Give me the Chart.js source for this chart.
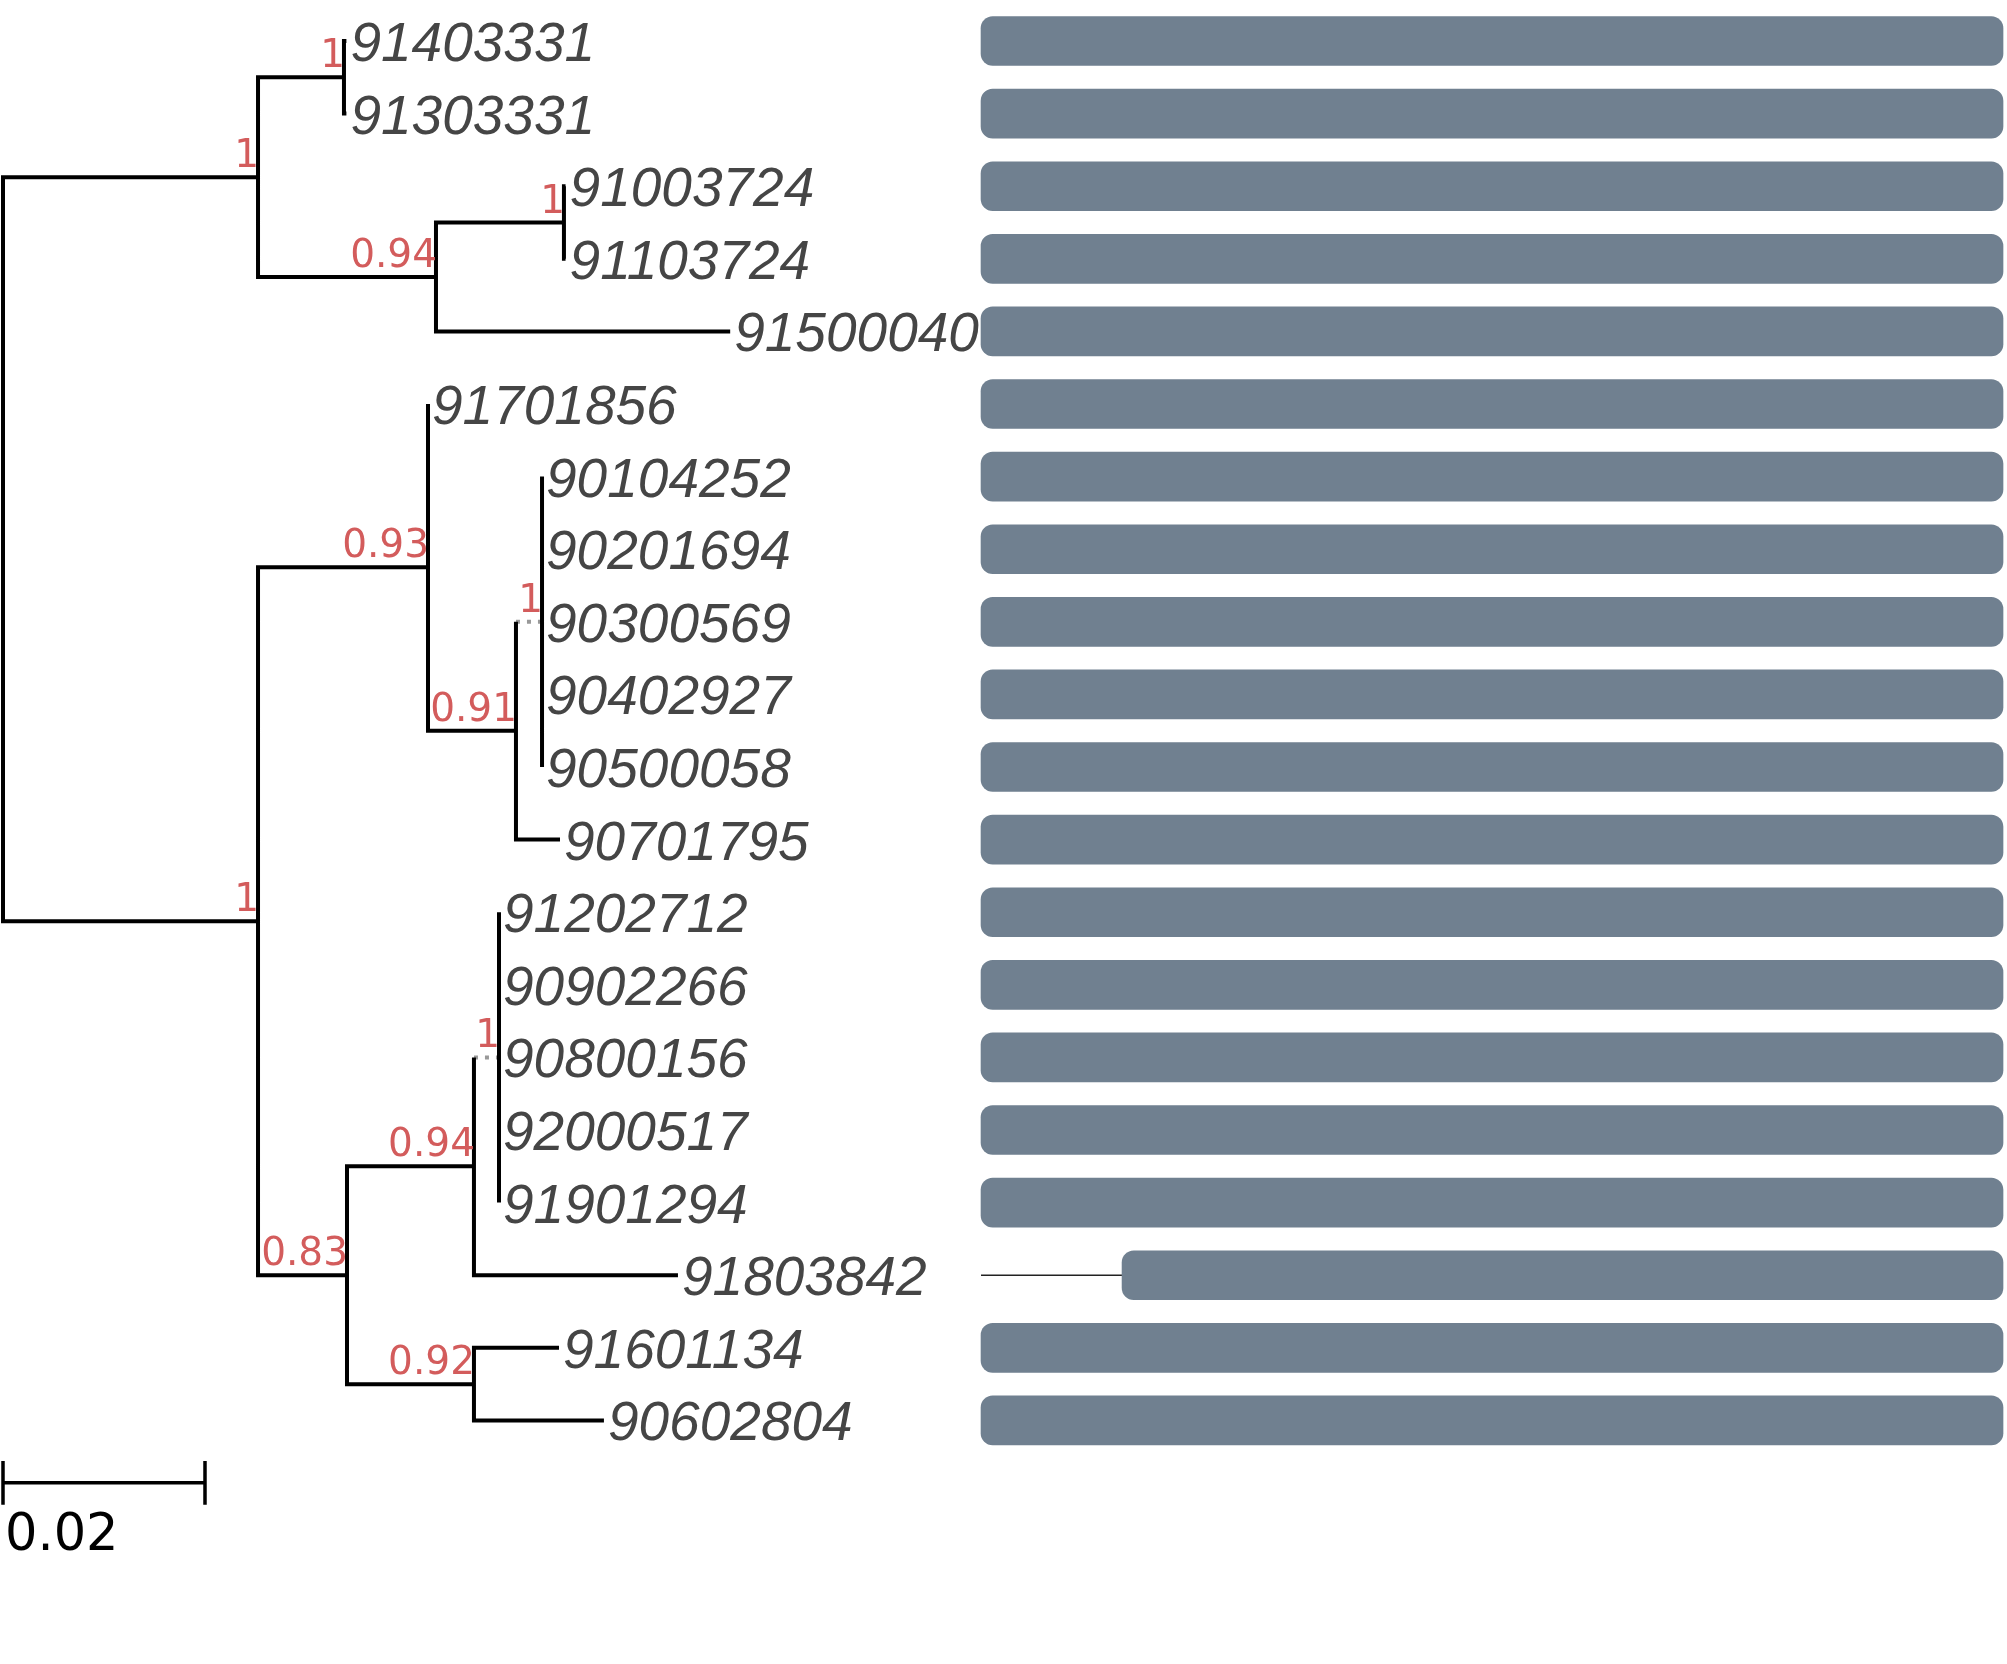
<!DOCTYPE html>
<html>
<head>
<meta charset="utf-8">
<script src="https://cdn.jsdelivr.net/npm/chart.js@4/dist/chart.umd.min.js"></script>
<style>
html, body { margin: 0; padding: 0; background: #fff; }
canvas { display: block; }
</style>
</head>
<body>
<canvas id="tree" width="2007" height="1664"></canvas>
<script>
// leaves, top to bottom
const taxa = [
    '91403331', '91303331', '91003724', '91103724', '91500040',
    '91701856', '90104252', '90201694', '90300569', '90402927',
    '90500058', '90701795', '91202712', '90902266', '90800156',
    '92000517', '91901294', '91803842', '91601134', '90602804'
];
// distance from root (substitutions/site)
const leafDepth = [
    0.0340, 0.0340, 0.0557, 0.0557, 0.0720,
    0.04208, 0.05337, 0.05337, 0.05337, 0.05337,
    0.05337, 0.05515, 0.04911, 0.04911, 0.04911,
    0.04911, 0.04911, 0.06683, 0.05505, 0.05950
];

// internal nodes: N0 is the root; children are 'L<row>' or 'N<node>'
const nodeDepth = [0, 0.02525, 0.03376, 0.04287, 0.05554, 0.02525, 0.04208,
    0.05079, 0.05337, 0.03406, 0.04663, 0.04911, 0.04663];
const nodeSupport = ['', '1', '1', '0.94', '1', '1', '0.93',
    '0.91', '1', '0.83', '0.94', '1', '0.92'];
const nodeChildren = [
    ['N1', 'N5'],
    ['N2', 'N3'],
    ['L0', 'L1'],
    ['N4', 'L4'],
    ['L2', 'L3'],
    ['N6', 'N9'],
    ['L5', 'N7'],
    ['N8', 'L11'],
    ['L6', 'L7', 'L8', 'L9', 'L10'],
    ['N10', 'N12'],
    ['N11', 'L17'],
    ['L12', 'L13', 'L14', 'L15', 'L16'],
    ['L18', 'L19']
];
const dottedBranches = ['N8', 'N11'];

// alignment coverage per leaf
const alignStart = [0, 0, 0, 0, 0, 0, 0, 0, 0, 0, 0, 0, 0, 0, 0, 0, 0, 138, 0, 0];
const alignEnd = [1000, 1000, 1000, 1000, 1000, 1000, 1000, 1000, 1000, 1000,
    1000, 1000, 1000, 1000, 1000, 1000, 1000, 1000, 1000, 1000];

const scaleBarLength = 0.02;
const scaleBarLabel = '0.02';


function isLeaf(ref) { return ref[0] === 'L'; }
function idx(ref) { return parseInt(ref.slice(1), 10); }
function depthOf(ref) { return isLeaf(ref) ? leafDepth[idx(ref)] : nodeDepth[idx(ref)]; }
function rowOf(ref) {
    if (isLeaf(ref)) return idx(ref);
    const ch = nodeChildren[idx(ref)];
    return (rowOf(ch[0]) + rowOf(ch[ch.length - 1])) / 2;
}

const solid = [];
const dotted = [];
const brk = {x: null, y: null};

nodeChildren.forEach((ch, i) => {
    const nd = nodeDepth[i];
    const first = ch[0], last = ch[ch.length - 1];
    const path = [];
    if (dottedBranches.includes(first)) {
        dotted.push({x: nd, y: rowOf(first)}, {x: depthOf(first), y: rowOf(first)}, brk);
    } else {
        path.push({x: depthOf(first), y: rowOf(first)});
    }
    path.push({x: nd, y: rowOf(first)}, {x: nd, y: rowOf(last)});
    if (dottedBranches.includes(last)) {
        dotted.push({x: nd, y: rowOf(last)}, {x: depthOf(last), y: rowOf(last)}, brk);
    } else {
        path.push({x: depthOf(last), y: rowOf(last)});
    }
    solid.push(...path, brk);
    ch.slice(1, -1).forEach(c => {
        if (depthOf(c) > nd) solid.push({x: nd, y: rowOf(c)}, {x: depthOf(c), y: rowOf(c)}, brk);
    });
});

// scale bar
const scaleRow = taxa.length - 1 + 0.86;
const scaleBar = [
    {x: 0, y: scaleRow - 0.3}, {x: 0, y: scaleRow + 0.3}, brk,
    {x: 0, y: scaleRow}, {x: scaleBarLength, y: scaleRow}, brk,
    {x: scaleBarLength, y: scaleRow - 0.3}, {x: scaleBarLength, y: scaleRow + 0.3}
];

// alignment gaps
const gaps = [];
alignStart.forEach((s, i) => {
    if (s > 0) gaps.push({x: 0, y: i}, {x: s, y: i}, brk);
});

const labelPlugin = {
    id: 'treeLabels',
    afterDatasetsDraw(chart) {
        const ctx = chart.ctx;
        const xs = chart.scales.xt;
        const ys = chart.scales.y;
        ctx.save();
        ctx.textBaseline = 'alphabetic';

        ctx.font = 'italic 55px "Liberation Sans"';
        ctx.fillStyle = '#454545';
        ctx.textAlign = 'left';
        taxa.forEach((t, i) => {
            ctx.fillText(t, xs.getPixelForValue(leafDepth[i]) + 4, ys.getPixelForValue(i) + 20);
        });

        ctx.font = '39px "DejaVu Sans"';
        ctx.fillStyle = '#d35c5c';
        ctx.textAlign = 'right';
        nodeSupport.forEach((s, i) => {
            if (!s) return;
            const r = rowOf('N' + i);
            ctx.fillText(s, xs.getPixelForValue(nodeDepth[i]) + 1, ys.getPixelForValue(r) - 10);
        });

        ctx.font = '51px "DejaVu Sans"';
        ctx.fillStyle = '#000';
        ctx.textAlign = 'left';
        ctx.fillText(scaleBarLabel, xs.getPixelForValue(0) + 2, ys.getPixelForValue(scaleRow) + 67);
        ctx.restore();
    }
};

const ctx = document.getElementById('tree').getContext('2d');
const chart = new Chart(ctx, {
    type: 'bar',
    data: {
        datasets: [{
            type: 'bar',
            label: 'alignment',
            indexAxis: 'y',
            xAxisID: 'xb',
            yAxisID: 'y',
            data: taxa.map((t, i) => ({y: i, x: [alignStart[i], alignEnd[i]]})),
            backgroundColor: '#708090',
            borderWidth: 0,
            borderRadius: 12,
            borderSkipped: false,
            grouped: false,
            barThickness: 49,
            maxBarThickness: 49
        }, {
            type: 'line',
            label: 'gaps',
            indexAxis: 'x',
            xAxisID: 'xb',
            yAxisID: 'y',
            data: gaps,
            borderColor: '#222',
            borderWidth: 1.5,
            pointRadius: 0,
            fill: false
        }, {
            type: 'line',
            label: 'branches',
            indexAxis: 'x',
            xAxisID: 'xt',
            yAxisID: 'y',
            data: solid,
            borderColor: '#000',
            borderWidth: 4,
            borderJoinStyle: 'miter',
            borderCapStyle: 'butt',
            pointRadius: 0,
            tension: 0,
            fill: false
        }, {
            type: 'line',
            label: 'short branches',
            indexAxis: 'x',
            xAxisID: 'xt',
            yAxisID: 'y',
            data: dotted,
            borderColor: '#999',
            borderWidth: 4,
            borderDash: [4, 7],
            pointRadius: 0,
            fill: false
        }, {
            type: 'line',
            label: 'scale',
            indexAxis: 'x',
            xAxisID: 'xt',
            yAxisID: 'y',
            data: scaleBar,
            borderColor: '#000',
            borderWidth: 3.5,
            pointRadius: 0,
            fill: false
        }]
    },
    options: {
        responsive: false,
        animation: false,
        layout: { padding: 0 },
        plugins: {
            legend: { display: false },
            tooltip: { enabled: false }
        },
        scales: {
            xt: { type: 'linear', axis: 'x', display: false, offset: false, beginAtZero: false,
                  min: -0.000297, max: 0.19842 },
            xb: { type: 'linear', axis: 'x', display: false, offset: false, beginAtZero: false,
                  min: -959.9, max: 1003.9 },
            y: { type: 'linear', axis: 'y', display: false, offset: false, beginAtZero: false,
                 reverse: true, min: -0.565, max: 22.355 }
        }
    },
    plugins: [labelPlugin]
});
</script>
</body>
</html>
